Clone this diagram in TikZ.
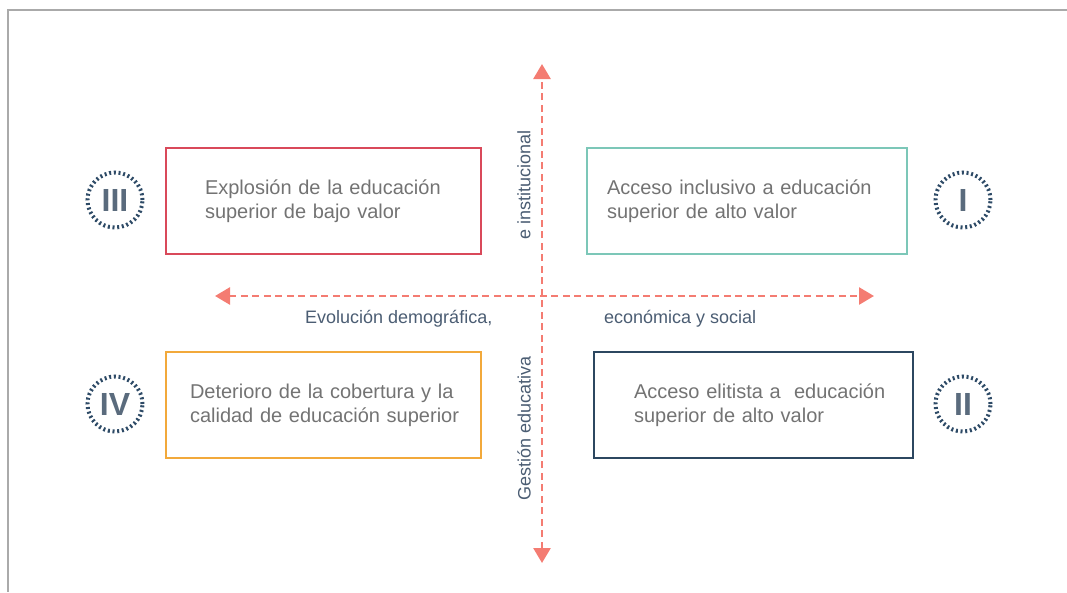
\documentclass[tikz,border=0pt]{standalone}
\usepackage{fontspec}
\setmainfont{Liberation Sans}
\usetikzlibrary{arrows.meta}
\definecolor{frame}{HTML}{AAAAAA}
\definecolor{axisc}{HTML}{F47C72}
\definecolor{txtgray}{HTML}{737373}
\definecolor{lblblue}{HTML}{4B5D73}
\definecolor{dotc}{HTML}{2D4A66}
\definecolor{romanc}{HTML}{5A6B7D}
\definecolor{boxred}{HTML}{D9495A}
\definecolor{boxteal}{HTML}{7CC7B8}
\definecolor{boxorange}{HTML}{F2A93B}
\definecolor{boxnavy}{HTML}{2C4760}
\tikzset{
  quad/.style={draw, line width=2pt, minimum height=106pt,
    inner ysep=0pt, align=left, text=txtgray, font=\fontsize{20}{24}\selectfont},
  numcirc/.style={circle, draw=dotc, line width=4pt, dash pattern=on 2pt off 2.7pt,
    minimum size=55pt, inner sep=0pt, text=romanc, font=\fontsize{32}{32}\selectfont\bfseries},
  axisline/.style={draw=axisc, line width=2.7pt, dash pattern=on 7pt off 4.5pt,
    {Triangle[width=17pt,length=15pt,fill=axisc]}-{Triangle[width=17pt,length=15pt,fill=axisc]}},
  axlbl/.style={text=lblblue, font=\fontsize{18}{20}\selectfont, inner sep=0pt}
}
\begin{document}
\begin{tikzpicture}[x=1pt,y=-1pt]
\useasboundingbox (0,0) rectangle (1067,592);
% frame
\draw[frame, line width=2pt] (1067,10) -- (8,10) -- (8,592);
% axes
\coordinate (top) at (542,64);
\coordinate (bot) at (542,563);
\coordinate (left) at (215,296);
\coordinate (right) at (874,296);
\draw[axisline] (bot) -- (top);
\draw[axisline] (left) -- (right);
% boxes
\node[quad, draw=boxred, inner xsep=39pt, text width=237pt] (q3) at (323.5,201) {\mbox{Explosión de la educación}\\\mbox{superior de bajo valor}};
\node[quad, draw=boxteal, inner xsep=20pt, text width=280pt] (q1) at (747,201) {\mbox{Acceso inclusivo a educación}\\\mbox{superior de alto valor}};
\node[quad, draw=boxorange, inner xsep=24pt, text width=267pt] (q4) at (323.5,405) {\mbox{Deterioro de la cobertura y la}\\\mbox{calidad de educación superior}};
\node[quad, draw=boxnavy, inner xsep=40pt, text width=239pt] (q2) at (753.5,405) {\mbox{Acceso elitista a\ \ educación}\\\mbox{superior de alto valor}};
% numerals
\node[numcirc] (c3) at (115,200) {III};
\node[numcirc] (c1) at (963,200) {I};
\node[numcirc] (c4) at (115,404) {IV};
\node[numcirc] (c2) at (963,404) {II};
% axis labels
\node[axlbl, rotate=90] (lt) at (524,185) {e institucional};
\node[axlbl, rotate=90] (lb) at (524,428) {Gestión educativa};
\node[axlbl, anchor=base west] (ll) at (305,323) {Evolución demográfica,};
\node[axlbl, anchor=base west] (lr) at (604,323) {económica y social};
\end{tikzpicture}
\end{document}
